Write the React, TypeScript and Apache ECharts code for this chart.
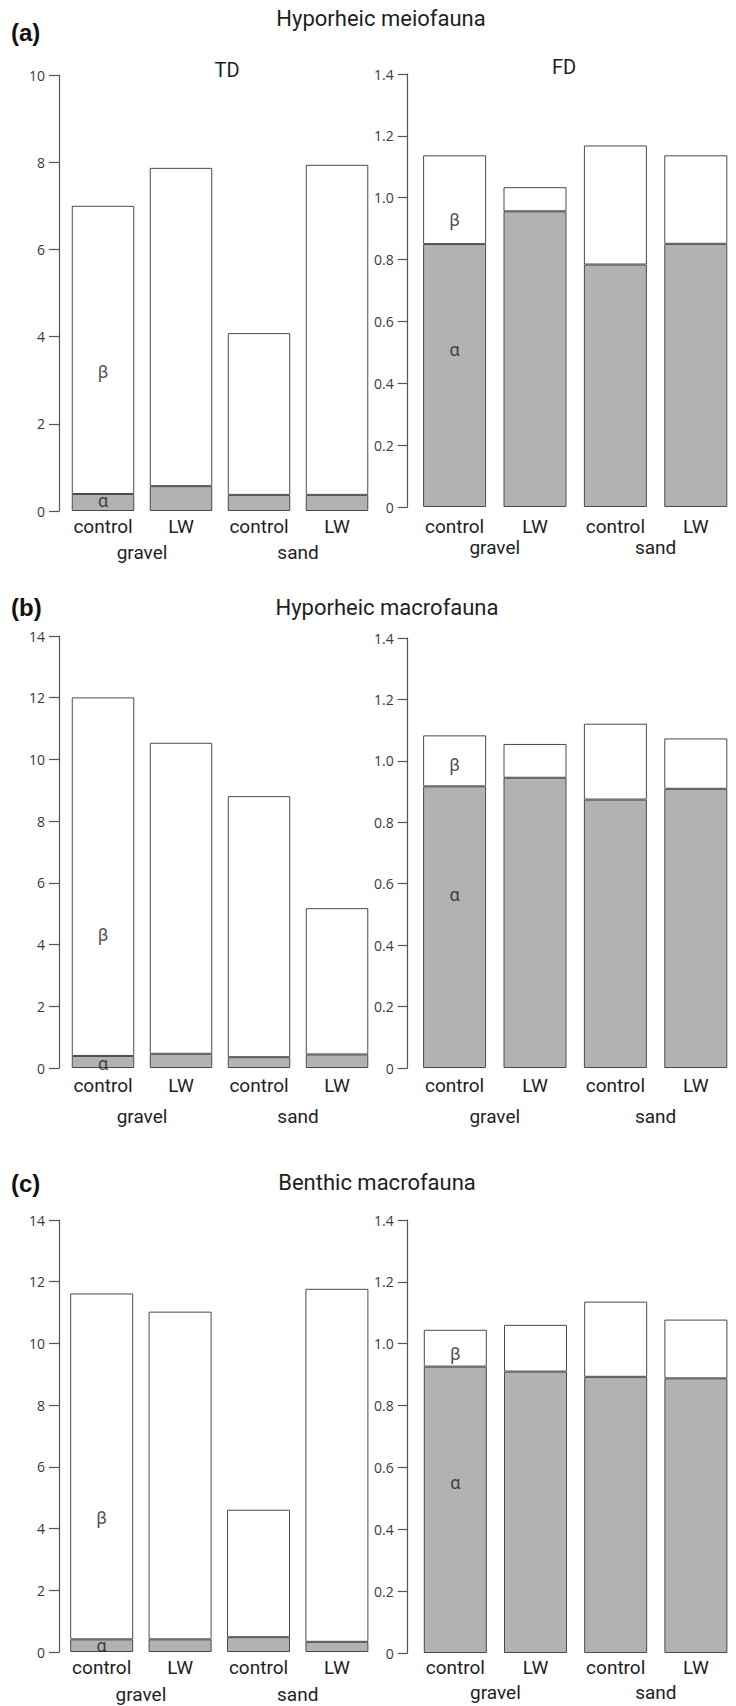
import React, { useEffect, useRef } from "react";
import * as echarts from "echarts";

const categories = ["control", "LW", "control", "LW"];
const groups = ["gravel", "sand"];

// Hyporheic meiofauna
const meioTDAlpha = [0.39, 0.57, 0.37, 0.37];
const meioTDBeta = [6.61, 7.3, 3.71, 7.57];
const meioFDAlpha = [0.85, 0.956, 0.784, 0.851];
const meioFDBeta = [0.287, 0.078, 0.385, 0.286];
// Hyporheic macrofauna
const macroTDAlpha = [0.39, 0.46, 0.35, 0.44];
const macroTDBeta = [11.62, 10.08, 8.46, 4.74];
const macroFDAlpha = [0.917, 0.945, 0.874, 0.909];
const macroFDBeta = [0.166, 0.11, 0.247, 0.164];
// Benthic macrofauna
const benthTDAlpha = [0.41, 0.41, 0.48, 0.33];
const benthTDBeta = [11.21, 10.62, 4.13, 11.44];
const benthFDAlpha = [0.926, 0.91, 0.893, 0.888];
const benthFDBeta = [0.119, 0.151, 0.243, 0.19];

// positions of the α / β annotations on the first bar (value units)
const greekAlphaY = [0.23, 0.51, 0.15, 0.565, 0.2, 0.55];
const greekBetaY = [3.19, 0.93, 4.32, 0.987, 4.36, 0.969];

const panelTitles = ["Hyporheic meiofauna", "Hyporheic macrofauna", "Benthic macrofauna"];
const panelLetters = ["(a)", "(b)", "(c)"];

const TD_MAX = [10, 14, 14];
const FD_MAX = 1.4;

const panels = [
  { alpha: meioTDAlpha, beta: meioTDBeta, max: TD_MAX[0], interval: 2, fd: false,
    grid: { left: 64, top: 75, width: 312, height: 436 }, off: 5, barW: 62.5, catMargin: 6, grpOff: 24 },
  { alpha: meioFDAlpha, beta: meioFDBeta, max: FD_MAX, interval: 0.2, fd: true,
    grid: { left: 414.4, top: 74, width: 324.8, height: 433 }, off: 6.7, barW: 63, catMargin: 10, grpOff: 23 },
  { alpha: macroTDAlpha, beta: macroTDBeta, max: TD_MAX[1], interval: 2, fd: false,
    grid: { left: 64, top: 636, width: 312, height: 432 }, off: 5, barW: 62.5, catMargin: 8, grpOff: 31 },
  { alpha: macroFDAlpha, beta: macroFDBeta, max: FD_MAX, interval: 0.2, fd: true,
    grid: { left: 414.4, top: 638, width: 324.8, height: 430 }, off: 6.7, barW: 63, catMargin: 8, grpOff: 31 },
  { alpha: benthTDAlpha, beta: benthTDBeta, max: TD_MAX[2], interval: 2, fd: false,
    grid: { left: 62.5, top: 1220, width: 313.6, height: 432 }, off: 3.5, barW: 63, catMargin: 6, grpOff: 25 },
  { alpha: benthFDAlpha, beta: benthFDBeta, max: FD_MAX, interval: 0.2, fd: true,
    grid: { left: 415.2, top: 1220, width: 326.8, height: 433 }, off: 7.5, barW: 63, catMargin: 5, grpOff: 22 },
];

const AXIS_COLOR = "#555555";
const BAR_BORDER = "#4a4a4a";
const ALPHA_FILL = "#b2b2b2";
const TEXT_COLOR = "#1e1e1e";

export default function App() {
  const ref = useRef<HTMLDivElement>(null);

  useEffect(() => {
    if (!ref.current) return;
    const chart = echarts.init(ref.current, undefined, { renderer: "svg" });

    const grids: any[] = [];
    const xAxes: any[] = [];
    const yAxes: any[] = [];
    const series: any[] = [];

    panels.forEach((p, i) => {
      grids.push({ ...p.grid, containLabel: false });
      xAxes.push({
        type: "category",
        gridIndex: i,
        data: categories,
        axisLine: { show: false },
        axisTick: { show: false },
        axisLabel: {
          margin: p.catMargin,
          fontSize: 19,
          color: TEXT_COLOR,
          fontFamily: "Roboto",
          interval: 0,
        },
      });
      xAxes.push({
        type: "category",
        gridIndex: i,
        position: "bottom",
        offset: p.grpOff,
        data: groups,
        axisLine: { show: false },
        axisTick: { show: false },
        axisLabel: {
          margin: 8,
          fontSize: 19,
          color: TEXT_COLOR,
          fontFamily: "Roboto",
          interval: 0,
        },
      });
      yAxes.push({
        type: "value",
        gridIndex: i,
        min: 0,
        max: p.max,
        interval: p.interval,
        offset: p.off,
        axisLine: { show: true, lineStyle: { color: AXIS_COLOR, width: 1.2 } },
        axisTick: { show: true, length: 10, lineStyle: { color: AXIS_COLOR, width: 1.2 } },
        splitLine: { show: false },
        axisLabel: {
          margin: 14,
          fontSize: 14,
          color: "#3a3a3a",
          fontFamily: "Open Sans",
          formatter: (v: number) => (p.fd ? (v === 0 ? "0" : v.toFixed(1)) : String(Math.round(v))),
        },
      });
      const xIdx = i * 2;
      series.push({
        type: "bar",
        name: "alpha",
        xAxisIndex: xIdx,
        yAxisIndex: i,
        stack: "s" + i,
        barWidth: p.barW,
        data: p.alpha,
        itemStyle: { color: ALPHA_FILL, borderColor: BAR_BORDER, borderWidth: 1 },
        z: 2,
      });
      series.push({
        type: "bar",
        name: "beta",
        xAxisIndex: xIdx,
        yAxisIndex: i,
        stack: "s" + i,
        barWidth: p.barW,
        data: p.beta,
        itemStyle: { color: "#ffffff", borderColor: BAR_BORDER, borderWidth: 1 },
        z: 2,
      });
      series.push({
        type: "scatter",
        xAxisIndex: xIdx,
        yAxisIndex: i,
        symbolSize: 0,
        z: 5,
        data: [
          { value: [0, greekAlphaY[i]], name: "α" },
          { value: [0, greekBetaY[i]], name: "β" },
        ],
        label: {
          show: true,
          position: "inside",
          formatter: (d: any) => d.name,
          fontSize: 18,
          color: TEXT_COLOR,
          fontFamily: "Roboto",
        },
        silent: true,
      });
    });

    const graphic: any[] = [];
    const titleY = [18, 607, 1182];
    const titleX = [381, 387, 377];
    const letterY = [32, 607, 1183];
    for (let k = 0; k < 3; k++) {
      graphic.push({
        type: "text",
        x: titleX[k],
        y: titleY[k],
        style: {
          text: panelTitles[k],
          fontSize: 22,
          fontFamily: "Roboto",
          fill: TEXT_COLOR,
          align: "center",
          verticalAlign: "middle",
        },
      });
      graphic.push({
        type: "text",
        x: 11,
        y: letterY[k],
        style: {
          text: panelLetters[k],
          fontSize: 24,
          fontWeight: "bold",
          fontFamily: "Liberation Sans",
          fill: "#111111",
          align: "left",
          verticalAlign: "middle",
        },
      });
    }
    graphic.push({
      type: "text",
      x: 227,
      y: 70,
      style: { text: "TD", fontSize: 20, fontFamily: "Roboto", fill: TEXT_COLOR, align: "center", verticalAlign: "middle" },
    });
    graphic.push({
      type: "text",
      x: 564,
      y: 67,
      style: { text: "FD", fontSize: 20, fontFamily: "Roboto", fill: TEXT_COLOR, align: "center", verticalAlign: "middle" },
    });

    chart.setOption({
      animation: false,
      backgroundColor: "#ffffff",
      grid: grids,
      xAxis: xAxes,
      yAxis: yAxes,
      series,
      graphic,
    });

    return () => chart.dispose();
  }, []);

  return (
    <div
      ref={ref}
      style={{ position: "absolute", left: 0, top: 0, width: 736, height: 1706, background: "#fff" }}
    />
  );
}
